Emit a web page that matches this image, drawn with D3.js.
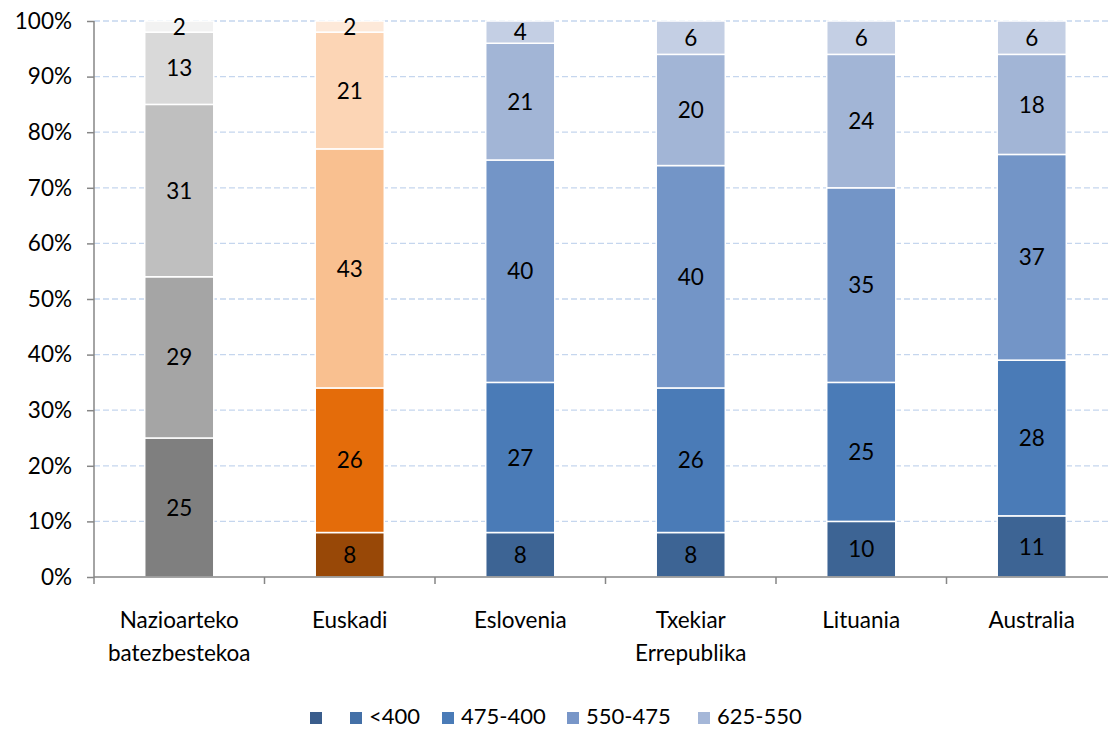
<!DOCTYPE html>
<html><head><meta charset="utf-8">
<script src="https://cdn.jsdelivr.net/npm/d3@7/dist/d3.min.js"></script>
<style>body{margin:0;background:#fff}svg{display:block;font-family:Lato,"Open Sans",sans-serif}</style>
</head><body><svg id="c" width="1108" height="731"></svg>
<script>
const categories = [["Nazioarteko","batezbestekoa"],["Euskadi"],["Eslovenia"],["Txekiar","Errepublika"],["Lituania"],["Australia"]];
const seriesNames = ["", "<400", "475-400", "550-475", "625-550"];
const s1 = [25, 8, 8, 8, 10, 11];
const s2 = [29, 26, 27, 26, 25, 28];
const s3 = [31, 43, 40, 40, 35, 37];
const s4 = [13, 21, 21, 20, 24, 18];
const s5 = [2, 2, 4, 6, 6, 6];
const yTicks = [0,10,20,30,40,50,60,70,80,90,100];

const FS = 22.5;
const series = [s1,s2,s3,s4,s5];
const palettes = [
  ["#7f7f7f","#a5a5a5","#bfbfbf","#d9d9d9","#f2f2f2"],
  ["#984807","#e46c0a","#f9c090","#fcd5b5","#fde9d9"],
  ["#3d6494","#4a7bb7","#7395c7","#a2b5d6","#c4cfe4"]
];
const legendColors = ["#3a5d8c","#4470a7","#4a7bb7","#7896c8","#a5b7d8"];
function colorFor(ci, si){ return palettes[Math.min(ci,2)][si]; }

const svg = d3.select("#c");
const m = {left:94, top:21, bottom:577, right:1117};
const x = d3.scaleBand().domain(d3.range(categories.length)).range([m.left, m.right]).paddingInner(0).paddingOuter(0);
const y = d3.scaleLinear().domain([0,100]).range([m.bottom, m.top]);

// grid
svg.append("g").selectAll("line").data(yTicks.filter(d=>d>0)).join("line")
  .attr("x1", m.left).attr("x2", m.right).attr("y1", d=>y(d)).attr("y2", d=>y(d))
  .attr("stroke","#c5d6ee").attr("stroke-width",1.3).attr("stroke-dasharray","6,3");

// bars
const bw = x.bandwidth()*0.405;
const stackData = categories.map((c,ci)=>{
  let acc=0;
  return series.map((s,si)=>{const v=s[ci]; const r={ci,si,y0:acc,y1:acc+v,v}; acc+=v; return r;});
});
const g = svg.append("g");
stackData.forEach(segs=>{
  segs.forEach(d=>{
    const cx = x(d.ci)+x.bandwidth()/2;
    g.append("rect").attr("x", cx-bw/2).attr("width", bw)
      .attr("y", y(d.y1)).attr("height", y(d.y0)-y(d.y1))
      .attr("fill", colorFor(d.ci,d.si)).attr("stroke","#fff").attr("stroke-width",1.5);
    g.append("text").attr("x", cx).attr("y", (y(d.y0)+y(d.y1))/2).attr("dy","0.36em")
      .attr("text-anchor","middle").attr("font-size",FS).attr("fill","#000").text(d.v);
  });
});

// y axis
const ya = svg.append("g").attr("transform",`translate(${m.left},0)`)
  .call(d3.axisLeft(y).tickValues(yTicks).tickFormat(d=>d+"%").tickSize(7).tickPadding(15));
ya.select(".domain").attr("stroke","#868686").attr("stroke-width",1.5).attr("d",`M-0,${m.top}V${m.bottom}`);
ya.selectAll(".tick line").attr("stroke","#868686").attr("stroke-width",1.5);
ya.selectAll(".tick text").attr("font-size",FS).attr("fill","#000").attr("font-family","Lato,sans-serif");

// x axis
svg.append("line").attr("x1",m.left).attr("x2",m.right).attr("y1",m.bottom).attr("y2",m.bottom)
  .attr("stroke","#868686").attr("stroke-width",1.5);
svg.append("g").selectAll("line").data(d3.range(categories.length+1)).join("line")
  .attr("x1",d=>m.left+d*x.bandwidth()).attr("x2",d=>m.left+d*x.bandwidth())
  .attr("y1",m.bottom).attr("y2",m.bottom+7).attr("stroke","#868686").attr("stroke-width",1.5);
const xl = svg.append("g").selectAll("text").data(categories).join("text")
  .attr("x",(d,i)=>x(i)+x.bandwidth()/2).attr("y",628).attr("text-anchor","middle")
  .attr("font-size",FS).attr("fill","#000");
xl.each(function(d){
  d3.select(this).selectAll("tspan").data(d).join("tspan")
    .attr("x", d3.select(this).attr("x")).attr("dy",(t,j)=>j===0?0:33).text(t=>t);
});

// legend
const legX = [310, 350, 442, 567, 698];
const lg = svg.append("g");
seriesNames.forEach((n,i)=>{
  lg.append("rect").attr("x",legX[i]).attr("y",712).attr("width",12).attr("height",12).attr("fill",legendColors[i]);
  lg.append("text").attr("x",legX[i]+19).attr("y",716).attr("dy","0.36em").attr("font-size",22).attr("fill","#000").text(n);
});
</script></body></html>
